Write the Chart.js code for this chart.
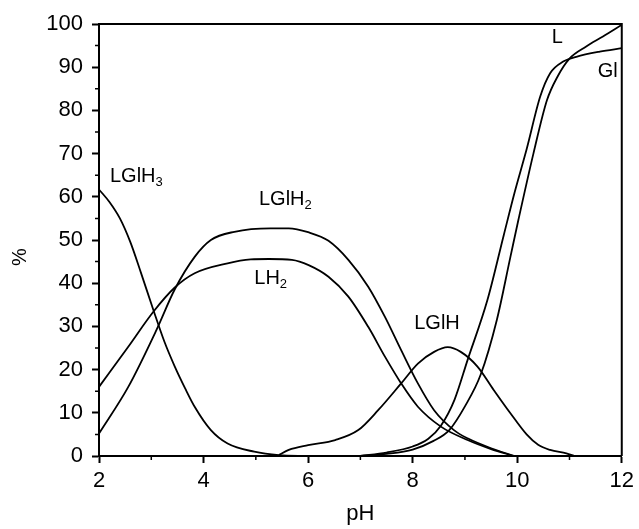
<!DOCTYPE html>
<html>
<head>
<meta charset="utf-8">
<script src="https://cdn.jsdelivr.net/npm/chart.js@4.4.1/dist/chart.umd.min.js"></script>
<style>
  body { margin: 0; background: #fff; }
</style>
</head>
<body>
<canvas id="species" width="639" height="529"></canvas>
<script>
// species distribution vs pH
var phLGlH3  = [2.0, 2.2, 2.4, 2.6, 2.8, 3.04, 3.25, 3.45, 3.65, 3.83, 4.14, 4.46, 4.97, 5.44, 6.0];
var valLGlH3 = [61.7, 58.8, 55.0, 49.5, 42.5, 33.8, 26.5, 20.7, 15.6, 11.4, 6.0, 2.9, 1.0, 0.2, 0];

var phLH2  = [2.0, 2.56, 3.04, 3.45, 3.83, 4.46, 4.9, 5.25, 5.69, 6.01, 6.39, 6.77, 7.15, 7.47, 7.78, 8.1, 8.54, 9.05, 9.5, 9.93];
var valLH2 = [16, 25.3, 33.4, 39.0, 42.3, 44.6, 45.5, 45.6, 45.4, 44.2, 41.5, 36.9, 29.9, 23.0, 16.8, 11.4, 6.8, 3.7, 1.6, 0];

var phLGlH2  = [2.0, 2.56, 3.1, 3.45, 3.83, 4.14, 4.59, 5.28, 5.63, 6.0, 6.39, 6.77, 7.15, 7.47, 7.78, 8.1, 8.41, 8.79, 9.05, 9.5, 9.95];
var valLGlH2 = [5.2, 16, 29.2, 38.6, 46.1, 50, 51.9, 52.7, 52.7, 51.8, 49.8, 45.4, 39.2, 32.2, 24.5, 16.8, 10.6, 6.0, 4.1, 1.8, 0];

var phLGlH  = [5.44, 5.63, 6.0, 6.52, 6.96, 7.34, 7.78, 8.1, 8.41, 8.67, 8.92, 9.24, 9.55, 9.87, 10.18, 10.4, 10.63, 10.94, 11.1];
var valLGlH = [0.2, 1.4, 2.5, 3.7, 6.0, 10.6, 16.8, 21.4, 24.1, 25.2, 24.1, 20.7, 15.3, 9.9, 5.0, 2.6, 1.4, 0.6, 0];

var phGl  = [7.0, 7.5, 8.0, 8.3, 8.54, 8.8, 9.05, 9.43, 9.74, 9.95, 10.18, 10.44, 10.63, 10.88, 11.13, 11.58, 12.0];
var valGl = [0, 0.8, 2.2, 4.0, 7.0, 13.0, 22.2, 36.1, 51.0, 61.0, 71.0, 83.2, 88.6, 91.3, 92.4, 93.6, 94.4];

var phL  = [7.0, 7.5, 8.0, 8.4, 8.7, 9.0, 9.3, 9.61, 9.87, 10.02, 10.31, 10.57, 10.77, 11.0, 11.32, 11.64, 12.0];
var valL = [0, 0.5, 1.5, 3.5, 6.0, 11.5, 18.8, 31.5, 46.1, 54.5, 70.0, 82.4, 87.8, 92.0, 94.8, 97.1, 99.8];

var xMinor = [3, 5, 7, 9, 11];
var yMinor = [5, 15, 25, 35, 45, 55, 65, 75, 85, 95];

// curve labels, anchored in data units (pH, %)
var curveLabels = [
    { text: 'LGlH', sub: '3', x: 2.21, y: 63.4 },
    { text: 'LGlH', sub: '2', x: 5.06, y: 58.0 },
    { text: 'LH',   sub: '2', x: 4.97, y: 39.8 },
    { text: 'LGlH', sub: '',  x: 8.03, y: 29.3 },
    { text: 'L',    sub: '',  x: 10.66, y: 95.5 },
    { text: 'Gl',   sub: '',  x: 11.54, y: 87.8 }
];

var FONT = '"Liberation Sans", Arial, sans-serif';

function pts(xs, ys) {
    return xs.map(function (x, i) { return { x: x, y: ys[i] }; });
}

function curve(label, xs, ys) {
    return {
        label: label,
        data: pts(xs, ys),
        borderColor: '#000',
        borderWidth: 1.8,
        pointRadius: 0,
        fill: false,
        cubicInterpolationMode: 'monotone'
    };
}

var extras = {
    id: 'extras',
    afterDraw: function (chart) {
        var ctx = chart.ctx;
        var a = chart.chartArea;
        var xs = chart.scales.x, ys = chart.scales.y;
        ctx.save();
        ctx.strokeStyle = '#000';
        ctx.lineWidth = 2;
        // top and right frame
        ctx.beginPath();
        ctx.moveTo(a.left, a.top);
        ctx.lineTo(a.right, a.top);
        ctx.lineTo(a.right, a.bottom);
        ctx.stroke();
        // minor ticks
        ctx.lineWidth = 1.5;
        ctx.beginPath();
        xMinor.forEach(function (v) {
            var px = xs.getPixelForValue(v);
            ctx.moveTo(px, a.bottom);
            ctx.lineTo(px, a.bottom + 4);
        });
        yMinor.forEach(function (v) {
            var py = ys.getPixelForValue(v);
            ctx.moveTo(a.left, py);
            ctx.lineTo(a.left - 4, py);
        });
        ctx.stroke();
        // curve labels
        ctx.fillStyle = '#000';
        ctx.textAlign = 'left';
        ctx.textBaseline = 'alphabetic';
        curveLabels.forEach(function (l) {
            var px = xs.getPixelForValue(l.x);
            var py = ys.getPixelForValue(l.y);
            ctx.font = '20px ' + FONT;
            ctx.fillText(l.text, px, py);
            if (l.sub) {
                var w = ctx.measureText(l.text).width;
                ctx.font = '13px ' + FONT;
                ctx.fillText(l.sub, px + w, py + 4);
            }
        });
        // y axis title, sits a little below the middle in the original
        ctx.translate(20, (a.top + a.bottom) / 2 + 17);
        ctx.rotate(-Math.PI / 2);
        ctx.textAlign = 'center';
        ctx.textBaseline = 'middle';
        ctx.font = '20px ' + FONT;
        ctx.fillText('%', 0, 0);
        ctx.restore();
    }
};

var ctx = document.getElementById('species').getContext('2d');
var chart = new Chart(ctx, {
    type: 'line',
    data: {
        datasets: [
            curve('LGlH3', phLGlH3, valLGlH3),
            curve('LH2', phLH2, valLH2),
            curve('LGlH2', phLGlH2, valLGlH2),
            curve('LGlH', phLGlH, valLGlH),
            curve('Gl', phGl, valGl),
            curve('L', phL, valL)
        ]
    },
    options: {
        responsive: false,
        animation: false,
        layout: { padding: { top: 24, right: 14, left: 0, bottom: 0 } },
        plugins: { legend: { display: false }, tooltip: { enabled: false } },
        scales: {
            x: {
                type: 'linear',
                min: 2, max: 12,
                ticks: {
                    stepSize: 2,
                    color: '#000',
                    padding: 5,
                    font: { family: FONT, size: 22 }
                },
                grid: { drawOnChartArea: false, tickLength: 7, tickColor: '#000', tickWidth: 2 },
                border: { color: '#000', width: 2 },
                title: {
                    display: true, text: 'pH', color: '#000',
                    padding: { top: 0, bottom: 2 },
                    font: { family: FONT, size: 22 }
                },
                afterFit: function (s) { s.height = 73; }
            },
            y: {
                min: 0, max: 100,
                ticks: {
                    stepSize: 10,
                    color: '#000',
                    padding: 9,
                    font: { family: FONT, size: 22 }
                },
                grid: { drawOnChartArea: false, tickLength: 7, tickColor: '#000', tickWidth: 2 },
                border: { color: '#000', width: 2 },
                afterFit: function (s) { s.width = 99; }
            }
        }
    },
    plugins: [extras]
});
</script>
</body>
</html>
